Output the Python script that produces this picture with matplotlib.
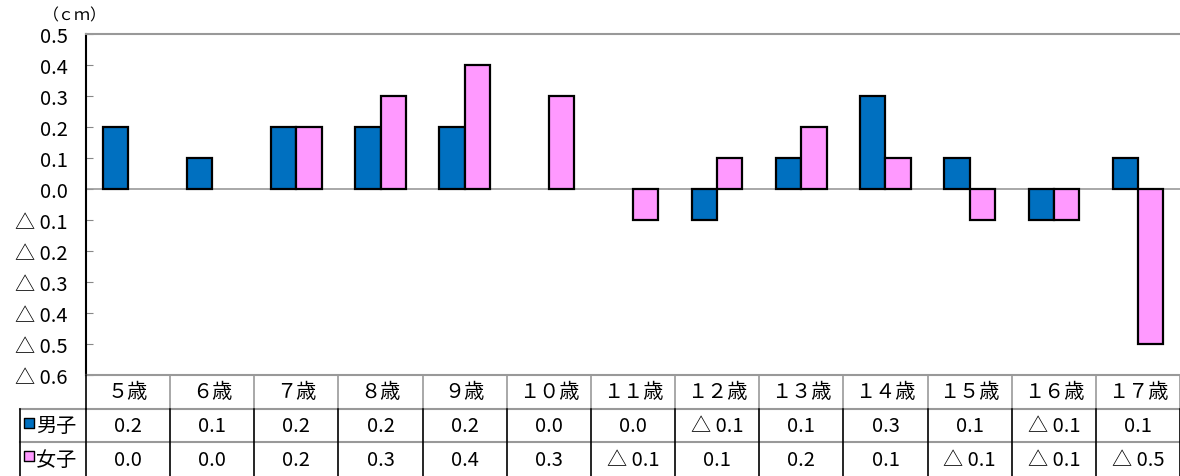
import matplotlib
matplotlib.use('Agg')
import matplotlib.pyplot as plt
import numpy as np

plt.rcParams['font.family'] = ['Noto Sans CJK JP', 'DejaVu Sans']

edades = ['５歳', '６歳', '７歳', '８歳', '９歳', '１０歳', '１１歳',
          '１２歳', '１３歳', '１４歳', '１５歳', '１６歳', '１７歳']
danshi = [0.2, 0.1, 0.2, 0.2, 0.2, 0.0, 0.0, -0.1, 0.1, 0.3, 0.1, -0.1, 0.1]
joshi = [0.0, 0.0, 0.2, 0.3, 0.4, 0.3, -0.1, 0.1, 0.2, 0.1, -0.1, -0.1, -0.5]
series_nombres = ['男子', '女子']
y_ticks = [0.5, 0.4, 0.3, 0.2, 0.1, 0.0, -0.1, -0.2, -0.3, -0.4, -0.5, -0.6]

azul = '#0070C0'
rosa = '#FF99FF'
fs = 14.5


def fmt(v):
    if round(v, 1) < 0:
        return '△ %.1f' % abs(v)
    return '%.1f' % abs(v)


fig = plt.figure(figsize=(11.8, 4.77), dpi=100)
ax = fig.add_axes([86 / 1180, 101 / 477, 1 - 86 / 1180, 341 / 477])

x = np.arange(len(edades))
w = 0.3
lw_d = [0 if v == 0 else 1.6 for v in danshi]
lw_j = [0 if v == 0 else 1.6 for v in joshi]
ax.bar(x - w / 2, danshi, w, color=azul, edgecolor='black', linewidth=lw_d, zorder=3)
ax.bar(x + w / 2, joshi, w, color=rosa, edgecolor='black', linewidth=lw_j, zorder=3)
ax.axhline(0, color='#999999', linewidth=1.2, zorder=2)

ax.set_xlim(-0.5, len(edades) - 0.5)
ax.set_ylim(-0.6, 0.5)
ax.set_yticks(y_ticks)
ax.set_yticklabels([fmt(v) for v in y_ticks], fontsize=fs)
ax.tick_params(axis='y', direction='in', length=5, color='#888888', pad=13)
ax.set_xticks([])
for s in ['right', 'bottom']:
    ax.spines[s].set_visible(False)
ax.spines['top'].set_color('#999999')
ax.spines['top'].set_linewidth(1.5)
ax.spines['left'].set_color('black')
ax.spines['left'].set_linewidth(1.5)
ax.text(-0.01, 1.03, '（ｃｍ）', transform=ax.transAxes, fontsize=11.5,
        ha='center', va='bottom')

# tabla de datos
tab = fig.add_axes([86 / 1180, 0, 1 - 86 / 1180, 101 / 477])
tab.set_xlim(-0.5, len(edades) - 0.5)
tab.set_ylim(0, 3)
tab.axis('off')

left = -0.5 - 66 / 84.15
gris = '#999999'
tab.plot([-0.5, len(edades) - 0.5], [3, 3], color=gris, lw=1.5, clip_on=False)
for yy in [2, 1]:
    tab.plot([left, len(edades) - 0.5], [yy, yy], color=gris, lw=1.5, clip_on=False)
tab.plot([left, left], [0, 2], color='black', lw=1.2, clip_on=False)
for i in range(len(edades) + 1):
    xb = i - 0.5
    tab.plot([xb, xb], [2, 3], color=gris if i > 0 else 'black', lw=1.2, clip_on=False)
    tab.plot([xb, xb], [0, 2], color='black', lw=1.2, clip_on=False)

for i, e in enumerate(edades):
    tab.text(i, 2.5, e, ha='center', va='center', fontsize=fs)
    tab.text(i, 1.5, fmt(danshi[i]), ha='center', va='center', fontsize=fs)
    tab.text(i, 0.5, fmt(joshi[i]), ha='center', va='center', fontsize=fs)

for fila, (nombre, col) in enumerate(zip(series_nombres, [azul, rosa])):
    yc = 1.5 - fila
    tab.scatter([left + 0.11], [yc + 0.08], s=45, marker='s', color=col,
                edgecolor='black', linewidth=1, clip_on=False, zorder=4)
    tab.text(left + 0.19, yc, nombre, ha='left', va='center', fontsize=fs)

plt.savefig('out.png', dpi=100)
